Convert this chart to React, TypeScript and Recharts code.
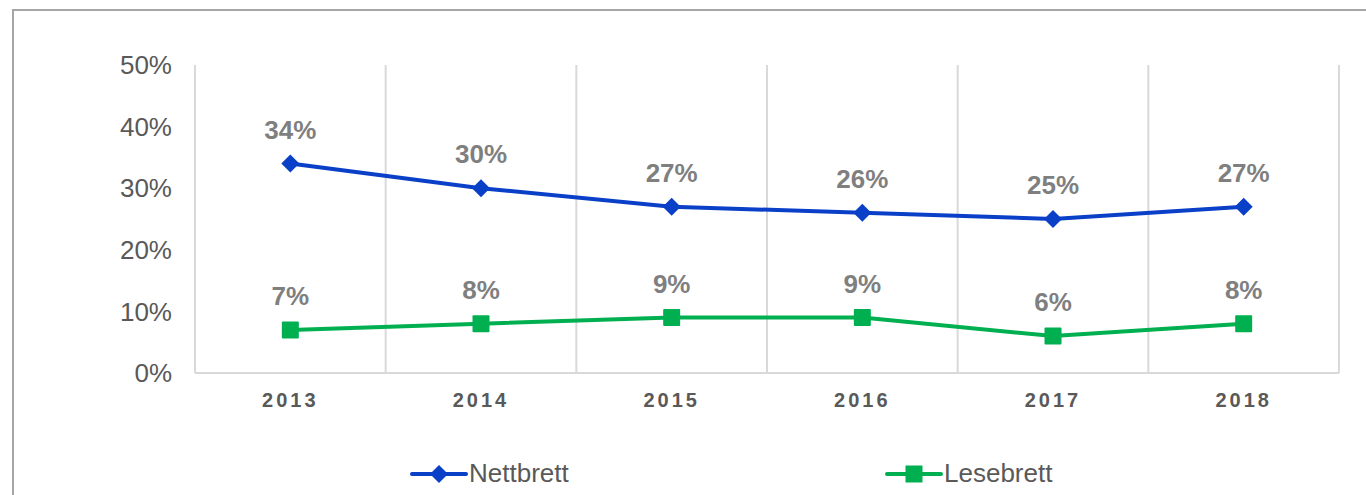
import React from "react"
import {
  LineChart,
  Line,
  XAxis,
  YAxis,
  CartesianGrid,
  LabelList,
  Legend,
} from "recharts"

const years = ["2013", "2014", "2015", "2016", "2017", "2018"]
const nettbrett = [34, 30, 27, 26, 25, 27]
const lesebrett = [7, 8, 9, 9, 6, 8]
const yTicks = [0, 10, 20, 30, 40, 50]

const BLUE = "#0a3fc8"
const GREEN = "#00b050"
const FONT = "'Liberation Sans', Arial, sans-serif"

const data = years.map((year, i) => ({
  x: i + 0.5,
  year,
  nettbrett: nettbrett[i],
  lesebrett: lesebrett[i],
}))

const centerTicks = years.map((_, i) => i + 0.5)
const gridTicks = [...years.map((_, i) => i), years.length]

const Diamond = (props: any) => {
  const { cx, cy } = props
  if (cx == null || cy == null) return null
  const w = 9
  const h = 9
  return (
    <path
      d={`M${cx},${cy - h} L${cx + w},${cy} L${cx},${cy + h} L${cx - w},${cy} Z`}
      fill={BLUE}
    />
  )
}

const Square = (props: any) => {
  const { cx, cy } = props
  if (cx == null || cy == null) return null
  const s = 8.5
  return <rect x={cx - s} y={cy - s} width={s * 2} height={s * 2} fill={GREEN} rx={1} />
}

const LegendIcon = ({ color, shape }: { color: string; shape: "diamond" | "square" }) => (
  <svg width={58} height={22} style={{ display: "block" }}>
    <line x1={2} y1={11} x2={56} y2={11} stroke={color} strokeWidth={4} strokeLinecap="round" />
    {shape === "diamond" ? (
      <path d="M29,2 L38,11 L29,20 L20,11 Z" fill={color} />
    ) : (
      <rect x={20.5} y={2.5} width={17} height={17} fill={color} />
    )}
  </svg>
)

const renderLegend = () => (
  <div style={{ display: "flex", alignItems: "center", paddingLeft: 410, fontFamily: FONT }}>
    <div style={{ display: "flex", alignItems: "center", width: 475 }}>
      <LegendIcon color={BLUE} shape="diamond" />
      <span style={{ fontSize: 26, color: "#595959", marginLeft: 1 }}>Nettbrett</span>
    </div>
    <div style={{ display: "flex", alignItems: "center" }}>
      <LegendIcon color={GREEN} shape="square" />
      <span style={{ fontSize: 26, color: "#595959", marginLeft: 1 }}>Lesebrett</span>
    </div>
  </div>
)

export default function App() {
  return (
    <div style={{ position: "fixed", left: 0, top: 0, width: 1366, height: 495, overflow: "hidden", background: "#fff" }}>
      <div
        style={{
          position: "absolute",
          left: 12,
          top: 9,
          width: 1400,
          height: 600,
          border: "2px solid #a6a6a6",
        }}
      />
      <div style={{ position: "absolute", left: 0, top: 0 }}>
        <LineChart
          width={1366}
          height={495}
          data={data}
          margin={{ top: 65, right: 27, bottom: 72, left: 0 }}
          style={{ fontFamily: FONT }}
        >
          <CartesianGrid xAxisId="grid" horizontal={false} stroke="#d9d9d9" strokeWidth={2} />
          <XAxis
            dataKey="x"
            type="number"
            domain={[0, years.length]}
            ticks={centerTicks}
            tickFormatter={(v: number) => years[Math.floor(v)]}
            height={50}
            axisLine={{ stroke: "#d9d9d9", strokeWidth: 2 }}
            tickLine={false}
            tickMargin={14}
            tick={{ fontSize: 20, fontWeight: "bold", fill: "#595959", letterSpacing: 3 }}
            interval={0}
          />
          <XAxis
            xAxisId="grid"
            dataKey="x"
            type="number"
            domain={[0, years.length]}
            ticks={gridTicks}
            hide
          />
          <YAxis
            width={195}
            domain={[0, 50]}
            ticks={yTicks}
            tickFormatter={(v: number) => `${v}%`}
            axisLine={false}
            tickLine={false}
            tickMargin={17}
            tick={{ fontSize: 26, fill: "#595959" }}
            interval={0}
          />
          <Legend
            verticalAlign="middle"
            align="center"
            layout="horizontal"
            content={renderLegend}
            wrapperStyle={{ top: 458, left: 0, width: 1366 }}
          />
          <Line
            dataKey="nettbrett"
            stroke={BLUE}
            strokeWidth={4}
            dot={<Diamond />}
            activeDot={false}
            isAnimationActive={false}
          >
            <LabelList
              dataKey="nettbrett"
              position="top"
              offset={25}
              formatter={(v: any) => `${v}%`}
              style={{ fontSize: 26, fontWeight: "bold", fill: "#7f7f7f" }}
            />
          </Line>
          <Line
            dataKey="lesebrett"
            stroke={GREEN}
            strokeWidth={4}
            dot={<Square />}
            activeDot={false}
            isAnimationActive={false}
          >
            <LabelList
              dataKey="lesebrett"
              position="top"
              offset={25}
              formatter={(v: any) => `${v}%`}
              style={{ fontSize: 26, fontWeight: "bold", fill: "#7f7f7f" }}
            />
          </Line>
        </LineChart>
      </div>
    </div>
  )
}
